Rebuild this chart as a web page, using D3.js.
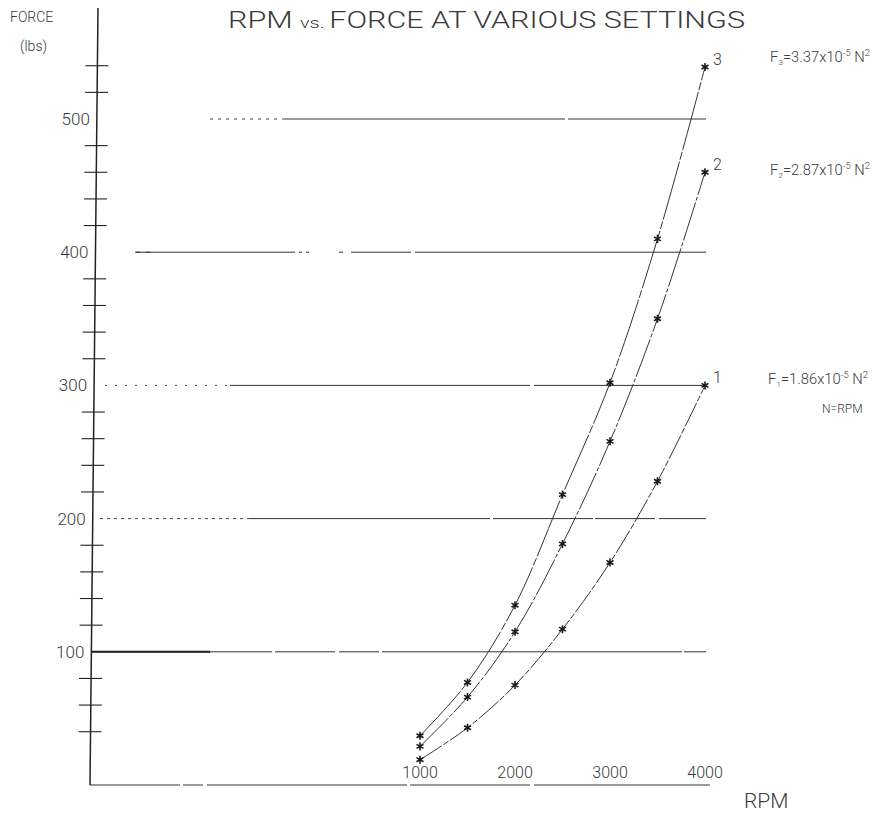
<!DOCTYPE html>
<html>
<head>
<meta charset="utf-8">
<script src="https://cdn.jsdelivr.net/npm/d3@7"></script>
<style>
  body { margin: 0; background: #fff; }
  text { font-family: "Roboto", "DejaVu Sans", sans-serif; font-weight: 300; fill: #3a3a3a; }
</style>
</head>
<body>
<div id="chart"></div>
<script>
// values
var rpm = [1000, 1500, 2000, 2500, 3000, 3500, 4000];
var force1 = [19, 43, 75, 117, 167, 228, 300];
var force2 = [29, 66, 115, 181, 258, 350, 460];
var force3 = [37, 77, 135, 218, 302, 410, 539];
var curveNames = ['1', '2', '3'];
var gridValues = [100, 200, 300, 400, 500];
var minorTicks = [40, 60, 80, 120, 140, 160, 180, 220, 240, 260, 280, 320, 340, 360, 380, 420, 440, 460, 480, 520, 540];
var xTicks = [1000, 2000, 3000, 4000];

var width = 874, height = 829;

var svg = d3.select('#chart').append('svg')
    .attr('width', width)
    .attr('height', height);

var x = d3.scaleLinear().domain([1000, 4000]).range([420, 705]);
var y = d3.scaleLinear().domain([0, 500]).range([785, 119]);

// hand drawn axis leans a little to the right at the top
function axisX(py) { return 90 + (785 - py) / 777 * 8; }

// gridlines: dotted lead-in near the axis, then mostly solid
var gridStart = [210, 100, 105, 150, 210];
var gridDots = ['2,6', '3,4', '2,8', '4,6', '3,5'];
var gridSolid = [92, 250, 230, 135, 285];
gridValues.forEach(function (v, i) {
    var py = y(v);
    svg.append('line')
        .attr('x1', gridStart[i]).attr('x2', gridSolid[i])
        .attr('y1', py).attr('y2', py)
        .attr('stroke', '#444').attr('stroke-width', 1)
        .attr('stroke-dasharray', gridDots[i]);
    svg.append('line')
        .attr('x1', gridSolid[i]).attr('x2', 706)
        .attr('y1', py).attr('y2', py)
        .attr('stroke', '#333')
        .attr('stroke-width', 1)
        .attr('stroke-dasharray', ['180,3,60,4,40,3,300,2', '240,3,100,2,60,4,200,2', '300,4,200,3', '160,4,3,4,3,30,4,8,60,4,300,2', '280,3,400,2'][i]);
});
// heavy start of the 100 line
svg.append('line')
    .attr('x1', axisX(y(100))).attr('x2', 210)
    .attr('y1', y(100)).attr('y2', y(100))
    .attr('stroke', '#222').attr('stroke-width', 2);

// y axis
svg.append('line')
    .attr('x1', axisX(8)).attr('y1', 8)
    .attr('x2', axisX(785)).attr('y2', 785)
    .attr('stroke', '#222').attr('stroke-width', 1.5);

// x axis
svg.append('line')
    .attr('x1', axisX(785)).attr('y1', 785)
    .attr('x2', 710).attr('y2', 785)
    .attr('stroke', '#333').attr('stroke-width', 1)
    .attr('stroke-dasharray', '90,3,20,4,200,3,120,4,400,2');

// minor ticks on the y axis
svg.selectAll('.minor')
    .data(minorTicks)
    .enter().append('line')
    .attr('class', 'minor')
    .attr('x1', function (d) { return axisX(y(d)) - 12; })
    .attr('x2', function (d) { return axisX(y(d)) + 11; })
    .attr('y1', function (d) { return y(d); })
    .attr('y2', function (d) { return y(d); })
    .attr('stroke', '#222')
    .attr('stroke-width', 1.1);

// y labels
svg.selectAll('.ylab')
    .data(gridValues)
    .enter().append('text')
    .attr('class', 'ylab')
    .attr('x', function (d) { return axisX(y(d)) - 7; })
    .attr('y', function (d) { return y(d) + 6; })
    .attr('text-anchor', 'end')
    .style('font-size', '17px')
    .text(function (d) { return d; });

// x labels
svg.selectAll('.xlab')
    .data(xTicks)
    .enter().append('text')
    .attr('class', 'xlab')
    .attr('x', function (d) { return x(d); })
    .attr('y', 778)
    .attr('text-anchor', 'middle')
    .style('font-size', '16px')
    .text(function (d) { return d; });

svg.append('text')
    .attr('x', 744).attr('y', 808)
    .style('font-size', '21px')
    .text('RPM');

// axis title
svg.append('text').attr('x', 10).attr('y', 22).style('font-size', '14px')
    .text('FORCE');
svg.append('text').attr('x', 20).attr('y', 51).style('font-size', '14px')
    .text('(lbs)');

// title
var title = svg.append('text')
    .attr('x', 228).attr('y', 28)
    .style('font-size', '23px')
    .attr('textLength', 517)
    .attr('lengthAdjust', 'spacingAndGlyphs');
title.append('tspan').text('RPM ');
title.append('tspan').style('font-size', '15px').text('vs. ');
title.append('tspan').text('FORCE AT VARIOUS SETTINGS');

// curves
var series = [force1, force2, force3];
var line = d3.line()
    .x(function (d, i) { return x(rpm[i]); })
    .y(function (d) { return y(d); })
    .curve(d3.curveCatmullRom);

var dashes = ['26,2,6,2', '40,2,4,2', '60,2,8,2'];
series.forEach(function (s, k) {
    svg.append('path')
        .datum(s)
        .attr('fill', 'none')
        .attr('stroke', '#333')
        .attr('stroke-width', 1)
        .attr('stroke-dasharray', dashes[k])
        .attr('d', line);

    svg.selectAll('.pt' + k)
        .data(s)
        .enter().append('path')
        .attr('class', 'pt' + k)
        .attr('transform', function (d, i) { return 'translate(' + x(rpm[i]) + ',' + y(d) + ')'; })
        .attr('d', d3.symbol().type(d3.symbolAsterisk).size(45))
        .attr('fill', 'none')
        .attr('stroke', '#1a1a1a')
        .attr('stroke-width', 1.6);

    var last = s[s.length - 1];
    svg.append('text')
        .attr('x', x(4000) + 8)
        .attr('y', y(last) - 2)
        .style('font-size', '16px')
        .text(curveNames[k]);
});

// equations
function equation(px, py, sub, coef) {
    var t = svg.append('text').attr('x', px).attr('y', py).style('font-size', '14px')
        .attr('textLength', 100).attr('lengthAdjust', 'spacingAndGlyphs');
    t.append('tspan').text('F');
    t.append('tspan').attr('dy', 3).style('font-size', '8px').text(sub);
    t.append('tspan').attr('dy', -3).text('=' + coef + 'x10');
    t.append('tspan').attr('dy', -6).style('font-size', '9px').text('-5');
    t.append('tspan').attr('dy', 6).text(' N');
    t.append('tspan').attr('dy', -6).style('font-size', '9px').text('2');
}
equation(770, 62, '3', '3.37');
equation(770, 175, '2', '2.87');
equation(768, 384, '1', '1.86');

svg.append('text').attr('x', 822).attr('y', 413).style('font-size', '12px')
    .text('N=RPM');
</script>
</body>
</html>
